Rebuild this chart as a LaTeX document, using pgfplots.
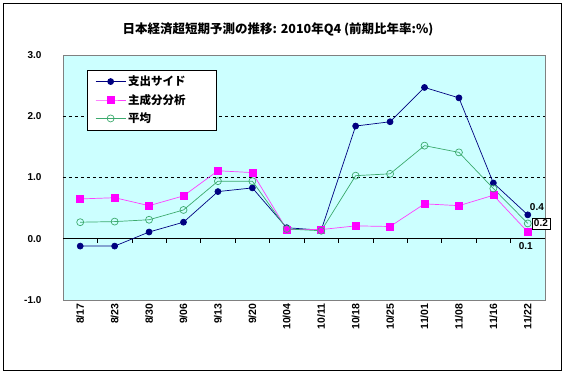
\documentclass[border=0pt]{standalone}
\usepackage{pgfplots}
\pgfplotsset{compat=1.18}
\usepackage{fontspec}
\setmainfont{Liberation Sans}
\newfontfamily\jp{Noto Sans CJK JP}
\definecolor{bgcyan}{RGB}{204,255,255}
\definecolor{navyc}{RGB}{0,0,128}
\definecolor{magc}{RGB}{255,0,255}
\definecolor{greenc}{RGB}{60,170,110}
\begin{document}
\begin{tikzpicture}[x=1pt,y=1pt]
\path[use as bounding box] (-63,-74) rectangle (502,300);
\draw[black,line width=0.8pt] (-60,-70) rectangle (498,297);
\begin{axis}[
  at={(0,0)}, anchor=south west,
  scale only axis, width=482pt, height=245pt,
  xmin=-0.5, xmax=13.5, ymin=-1, ymax=3,
  axis background/.style={fill=bgcyan},
  axis line style={gray, line width=0.6pt},
  xtick={0,...,13},
  xticklabels={8/17,8/23,8/30,9/06,9/13,9/20,10/04,10/11,10/18,10/25,11/01,11/08,11/16,11/22},
  xticklabel style={rotate=90, anchor=east, font=\bfseries\fontsize{10.5}{12}\selectfont},
  xtick style={draw=none},
  ytick={-1,0,1,2,3},
  ytick style={draw=none},
  yticklabel style={font=\bfseries\fontsize{10}{12}\selectfont, xshift=-18pt},
  /pgf/number format/assume math mode=true,
  y tick label style={/pgf/number format/.cd, fixed, fixed zerofill, precision=1},
  legend style={at={(0.05,0.94)}, anchor=north west, draw=black, fill=white,
    font=\jp\bfseries\fontsize{11.5}{13}\selectfont, row sep=3pt, inner xsep=8pt, inner ysep=4pt,
    nodes={text width=78pt}},
  legend cell align=left,
  legend image code/.code={\draw[mark repeat=2,mark phase=2,#1] plot coordinates {(6pt,0pt) (21pt,0pt) (36pt,0pt)};},
  clip=false,
]
\draw[black, dashed, line width=0.5pt] (axis cs:-0.5,1) -- (axis cs:13.5,1);
\draw[black, dashed, line width=0.5pt] (axis cs:-0.5,2) -- (axis cs:13.5,2);
\draw[black, line width=0.6pt] (axis cs:-0.5,0) -- (axis cs:13.5,0);
\pgfplotsinvokeforeach{0.5,1.5,2.5,3.5,4.5,5.5,6.5,7.5,8.5,9.5,10.5,11.5,12.5}{
  \draw[black, line width=0.5pt] (axis cs:#1,0) -- ([yshift=-4pt]axis cs:#1,0);
}
\addplot[navyc, line width=0.7pt, mark=*, mark size=3pt, mark options={fill=navyc}] coordinates {
(0,-0.12) (1,-0.12) (2,0.11) (3,0.27) (4,0.77) (5,0.83) (6,0.18) (7,0.14) (8,1.84) (9,1.91) (10,2.47) (11,2.30) (12,0.91) (13,0.39)};
\addlegendentry{支出サイド}
\addplot[magc!75, line width=0.7pt, mark=square*, mark size=3.5pt, mark options={fill=magc, draw=magc}] coordinates {
(0,0.65) (1,0.67) (2,0.54) (3,0.70) (4,1.11) (5,1.08) (6,0.15) (7,0.15) (8,0.21) (9,0.20) (10,0.57) (11,0.54) (12,0.71) (13,0.11)};
\addlegendentry{主成分分析}
\addplot[greenc, line width=0.7pt, mark=o, mark size=3.5pt, mark options={fill=bgcyan}] coordinates {
(0,0.27) (1,0.28) (2,0.31) (3,0.47) (4,0.94) (5,0.94) (6,0.16) (7,0.13) (8,1.03) (9,1.06) (10,1.52) (11,1.41) (12,0.82) (13,0.25)};
\addlegendentry{平均}
\node[font=\bfseries\fontsize{10}{12}\selectfont, anchor=south west, inner sep=1pt] at ([xshift=1pt,yshift=3pt]axis cs:13,0.39) {0.4};
\node[font=\bfseries\fontsize{10}{12}\selectfont, anchor=west, draw=black, fill=white, inner sep=2pt] at ([xshift=4pt]axis cs:13,0.25) {0.2};
\node[font=\bfseries\fontsize{10}{12}\selectfont, anchor=north, inner sep=1pt] at ([xshift=-2pt,yshift=-9pt]axis cs:13,0.11) {0.1};
\node[font=\jp\bfseries\fontsize{12.5}{14}\selectfont, anchor=center] at ([xshift=-26pt]rel axis cs:0.5,1) [yshift=26pt] {日本経済超短期予測の推移: 2010年Q4 (前期比年率:\%)};
\end{axis}
\end{tikzpicture}
\end{document}
